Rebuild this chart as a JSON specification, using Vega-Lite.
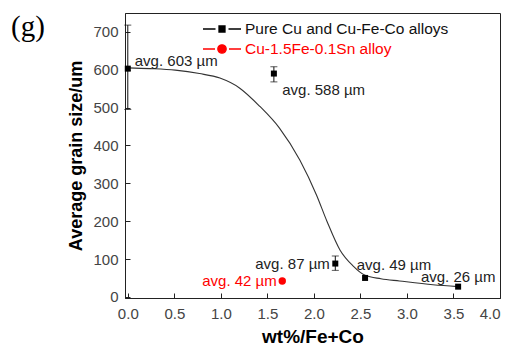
{
  "$schema": "https://vega.github.io/schema/vega-lite/v6.json",
  "width": 375,
  "height": 285,
  "autosize": {"type": "none"},
  "padding": {"left": 125, "top": 13, "right": 10, "bottom": 49},
  "title": {"text": "(g)", "anchor": "start", "frame": "group", "font": "Liberation Serif", "fontSize": 29, "fontWeight": "normal", "color": "#000000", "dx": -114, "dy": 52, "offset": 0, "baseline": "alphabetic"},
  "config": {
    "view": {"stroke": "#222222", "strokeWidth": 1},
    "font": "Liberation Sans",
    "axis": {"grid": false, "domainColor": "#222222", "tickColor": "#222222", "labelFont": "Liberation Sans", "labelFontSize": 15, "labelColor": "#444444", "titleFont": "Liberation Sans", "titleFontWeight": "bold", "titleColor": "#000000"}
  },
  "datasets": {
    "points": [
      {"series": "Pure Cu and Cu-Fe-Co alloys", "wt": 0.0, "size": 603, "lo": 495, "hi": 718, "label": "avg. 603 µm", "lx": 0.075, "ly": 623},
      {"series": "Pure Cu and Cu-Fe-Co alloys", "wt": 1.57, "size": 590, "lo": 568, "hi": 608, "label": "avg. 588 µm", "lx": 1.66, "ly": 546},
      {"series": "Pure Cu and Cu-Fe-Co alloys", "wt": 2.23, "size": 88, "lo": 70, "hi": 108, "label": "avg. 87 µm", "lx": 1.37, "ly": 88},
      {"series": "Pure Cu and Cu-Fe-Co alloys", "wt": 2.55, "size": 50, "label": "avg. 49 µm", "lx": 2.46, "ly": 85},
      {"series": "Pure Cu and Cu-Fe-Co alloys", "wt": 3.55, "size": 27, "label": "avg. 26 µm", "lx": 3.15, "ly": 53},
      {"series": "Cu-1.5Fe-0.1Sn alloy", "wt": 1.66, "size": 42, "label": "avg. 42 µm", "lx": 0.80, "ly": 42}
    ],
    "curve": [
      {"wt": 0.0, "size": 605},
      {"wt": 0.24, "size": 603},
      {"wt": 0.51, "size": 599},
      {"wt": 0.77, "size": 590},
      {"wt": 0.99, "size": 578},
      {"wt": 1.20, "size": 552},
      {"wt": 1.42, "size": 503},
      {"wt": 1.63, "size": 446},
      {"wt": 1.85, "size": 361},
      {"wt": 2.03, "size": 268},
      {"wt": 2.14, "size": 200},
      {"wt": 2.28, "size": 124},
      {"wt": 2.42, "size": 82},
      {"wt": 2.55, "size": 57},
      {"wt": 2.72, "size": 48},
      {"wt": 2.92, "size": 42},
      {"wt": 3.28, "size": 32},
      {"wt": 3.55, "size": 27}
    ]
  },
  "layer": [
    {
      "data": {"name": "curve"},
      "mark": {"type": "line", "interpolate": "monotone", "color": "#333333", "strokeWidth": 1.1},
      "encoding": {
        "x": {"field": "wt", "type": "quantitative", "scale": {"domain": [-0.03, 4.0], "nice": false, "zero": false},
              "axis": {"title": "wt%/Fe+Co", "titleFontSize": 19, "values": [0, 0.5, 1, 1.5, 2, 2.5, 3, 3.5, 4], "format": ".1f", "tickSize": -5, "labelPadding": 13, "titlePadding": 6}},
        "y": {"field": "size", "type": "quantitative", "scale": {"domain": [-3, 750], "nice": false, "zero": false},
              "axis": {"title": "Average grain size/um", "titleFontSize": 18, "values": [0, 100, 200, 300, 400, 500, 600, 700], "tickSize": -5, "labelPadding": 12, "titlePadding": 7}}
      }
    },
    {
      "data": {"name": "points"},
      "transform": [{"filter": "isValid(datum.lo)"}],
      "mark": {"type": "rule", "color": "#111111", "strokeWidth": 1},
      "encoding": {
        "x": {"field": "wt", "type": "quantitative", "title": "wt%/Fe+Co"},
        "y": {"field": "lo", "type": "quantitative", "title": "Average grain size/um"},
        "y2": {"field": "hi"}
      }
    },
    {
      "data": {"name": "points"},
      "transform": [{"filter": "isValid(datum.lo)"}],
      "mark": {"type": "tick", "orient": "horizontal", "size": 7, "thickness": 1, "color": "#111111"},
      "encoding": {
        "x": {"field": "wt", "type": "quantitative", "title": "wt%/Fe+Co"},
        "y": {"field": "lo", "type": "quantitative", "title": "Average grain size/um"}
      }
    },
    {
      "data": {"name": "points"},
      "transform": [{"filter": "isValid(datum.hi)"}],
      "mark": {"type": "tick", "orient": "horizontal", "size": 7, "thickness": 1, "color": "#111111"},
      "encoding": {
        "x": {"field": "wt", "type": "quantitative", "title": "wt%/Fe+Co"},
        "y": {"field": "hi", "type": "quantitative", "title": "Average grain size/um"}
      }
    },
    {
      "data": {"name": "points"},
      "mark": {"type": "point", "filled": true, "opacity": 1},
      "encoding": {
        "x": {"field": "wt", "type": "quantitative", "title": "wt%/Fe+Co"},
        "y": {"field": "size", "type": "quantitative", "title": "Average grain size/um"},
        "color": {"condition": {"test": "datum.series === 'Cu-1.5Fe-0.1Sn alloy'", "value": "#ff0000"}, "value": "#000000"},
        "shape": {"condition": {"test": "datum.series === 'Cu-1.5Fe-0.1Sn alloy'", "value": "circle"}, "value": "square"},
        "size": {"condition": {"test": "datum.series === 'Cu-1.5Fe-0.1Sn alloy'", "value": 55}, "value": 36}
      }
    },
    {
      "data": {"name": "points"},
      "transform": [{"filter": "false"}],
      "mark": {"type": "point", "filled": true, "opacity": 1},
      "encoding": {
        "x": {"field": "wt", "type": "quantitative", "title": "wt%/Fe+Co"},
        "y": {"field": "size", "type": "quantitative", "title": "Average grain size/um"},
        "fill": {"field": "series", "type": "nominal",
                 "scale": {"domain": ["Pure Cu and Cu-Fe-Co alloys", "Cu-1.5Fe-0.1Sn alloy"], "range": ["#000000", "#ff0000"]},
                 "legend": {"title": null, "orient": "none", "legendX": 86, "legendY": 5, "symbolSize": 400, "symbolStrokeWidth": 1.3, "symbolOpacity": 1, "labelFontSize": 15.5, "labelFont": "Liberation Sans", "labelOffset": 12, "labelLimit": 400, "rowPadding": 0, "padding": 0,
                   "encode": {"labels": {"update": {"fill": {"signal": "datum.value === 'Cu-1.5Fe-0.1Sn alloy' ? '#ff0000' : '#111111'"}}}}}},
        "stroke": {"field": "series", "type": "nominal",
                   "scale": {"domain": ["Pure Cu and Cu-Fe-Co alloys", "Cu-1.5Fe-0.1Sn alloy"], "range": ["#000000", "#ff0000"]}},
        "shape": {"field": "series", "type": "nominal",
                  "scale": {"domain": ["Pure Cu and Cu-Fe-Co alloys", "Cu-1.5Fe-0.1Sn alloy"],
                            "range": ["M -1.9 0 L -0.65 0 M 0.65 0 L 1.9 0 M -0.3 -0.3 L 0.3 -0.3 L 0.3 0.3 L -0.3 0.3 Z", "M -1.9 0 L -0.7 0 M 0.7 0 L 1.9 0 M 0.42 0 A 0.42 0.42 0 1 1 -0.42 0 A 0.42 0.42 0 1 1 0.42 0 Z"]}}
      }
    },
    {
      "data": {"name": "points"},
      "mark": {"type": "text", "align": "left", "baseline": "middle", "fontSize": 15, "font": "Liberation Sans"},
      "encoding": {
        "x": {"field": "lx", "type": "quantitative", "title": "wt%/Fe+Co"},
        "y": {"field": "ly", "type": "quantitative", "title": "Average grain size/um"},
        "text": {"field": "label"},
        "color": {"condition": {"test": "datum.series === 'Cu-1.5Fe-0.1Sn alloy'", "value": "#ff0000"}, "value": "#222222"}
      }
    }
  ]
}
